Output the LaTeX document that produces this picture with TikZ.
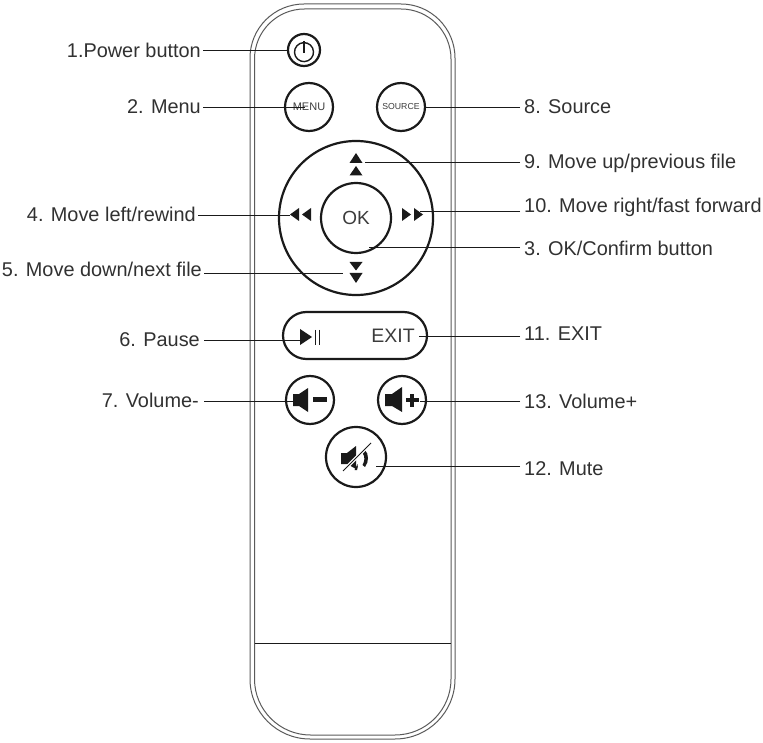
\documentclass[tikz,border=0pt]{standalone}
\usepackage{fontspec}
\setmainfont{Liberation Sans}
\usepackage{xcolor}
\usetikzlibrary{positioning,calc}
\definecolor{ink}    {HTML}{1A1A1A}
\definecolor{inkgray}{HTML}{5A5A5A}
\tikzset{
  btn/.style={circle,draw=ink,line width=2.2pt,inner sep=0pt,text=ink!85},
  leader/.style={ink,line width=0.9pt},
  lblL/.style={anchor=east,inner sep=2pt,font=\fontsize{19.9}{22}\selectfont,text=ink!90},
  lblR/.style={anchor=west,inner sep=4pt,font=\fontsize{19.9}{22}\selectfont,text=ink!90},
}
\begin{document}
\begin{tikzpicture}[x=1pt,y=1pt]
  \useasboundingbox (0,0) rectangle (763,-743);
  % remote body
  \draw[inkgray,line width=1pt] (250,-400) [rounded corners=54pt] -- (250,-4) -- (455,-4) -- (455,-400)
    [rounded corners=60pt] -- (455,-739) -- (250,-739) -- cycle;
  \draw[inkgray,line width=1pt] (254.5,-400) [rounded corners=50pt] -- (254.5,-9) -- (451,-9) -- (451,-400)
    [rounded corners=56pt] -- (451,-735) -- (254.5,-735) -- cycle;
  \draw[ink,line width=0.9pt] (254.5,-643) -- (451,-643);
  % buttons
  \node[btn,minimum size=32] (powerBtn) at (304,-50) {};
  \node[btn,minimum size=48,font=\fontsize{11}{12}\selectfont] (menuBtn) at (309,-107) {MENU};
  \node[btn,minimum size=48,font=\fontsize{8.7}{10}\selectfont] (sourceBtn) at (401,-107) {SOURCE};
  \node[btn,minimum size=154] (padBtn) at (356,-218) {};
  \node[btn,minimum size=70,font=\fontsize{19}{22}\selectfont] (okBtn) at (356,-218) {OK};
  \node[draw=ink,line width=2.2pt,rounded corners=23.5pt,minimum width=144,minimum height=47,inner sep=0pt] (pillBtn) at (355,-335.5) {};
  \node[font=\fontsize{19.5}{22}\selectfont,text=ink!85,inner sep=0pt] (exitTxt) at (393,-336) {EXIT};
  \node[btn,minimum size=48] (volDownBtn) at (310,-400) {};
  \node[btn,minimum size=48] (volUpBtn) at (402,-400) {};
  \node[btn,minimum size=60] (muteBtn) at (356,-457) {};
  % power glyph
  \draw[ink,line width=1.4pt] (304,-41) -- (304,-53);
  \draw[ink,line width=1.4pt] (300,-43.5) arc[start angle=115,end angle=-295,radius=9.5];
  % pad arrows
  \foreach \y/\h in {-153/10,-166/9.5} {
    \fill[ink] (349.5,\y-\h) -- (362.5,\y-\h) -- (356,\y) -- cycle;
  }
  \foreach \y/\h in {-262/8.5,-273/10} {
    \fill[ink] (349.5,\y) -- (362.5,\y) -- (356,\y-\h) -- cycle;
  }
  \foreach \x in {290,302} {
    \fill[ink] (\x,-214.5) -- (\x+9,-208) -- (\x+9,-221) -- cycle;
  }
  \foreach \x in {402,414} {
    \fill[ink] (\x,-208) -- (\x,-221) -- (\x+9,-214.5) -- cycle;
  }
  % play and pause
  \fill[ink] (300,-329) -- (300,-345) -- (312,-337) -- cycle;
  \draw[ink,line width=0.8pt] (315.5,-330) -- (315.5,-345) (319,-330) -- (319,-345);
  % volume glyphs
  \fill[ink] (293,-394) -- (299,-394) -- (308,-388) -- (308,-412) -- (299,-406) -- (293,-406) -- cycle;
  \fill[ink] (313,-397) rectangle (327,-402);
  \fill[ink] (385,-394) -- (392,-394) -- (402,-387) -- (402,-412) -- (392,-406) -- (385,-406) -- cycle;
  \fill[ink] (405.5,-398) rectangle (418.5,-402);
  \fill[ink] (410,-393.5) rectangle (414,-406.5);
  % mute glyph
  \fill[ink] (341,-453) -- (347,-453) -- (356,-446) -- (356,-469) -- (347,-464) -- (341,-464) -- cycle;
  \fill[ink] (365,-450) .. controls (369,-454) and (369,-462) .. (365,-467) -- (362.5,-465) .. controls (365,-461) and (365,-456) .. (362.5,-453) -- cycle;
  \fill[ink] (357.5,-464) .. controls (358,-466) and (358,-468) .. (357,-470) -- (354.5,-470) -- cycle;
  \draw[white,line width=3.4pt] (343,-471) -- (371,-443);
  \draw[ink,line width=0.9pt] (343,-471) -- (371,-443);
  % leader ends
  \coordinate (powerEnd) at (288,-50);
  \coordinate (menuEnd) at (305,-107);
  \coordinate (sourceEnd) at (424,-107);
  \coordinate (upEnd) at (365,-162);
  \coordinate (rightEnd) at (420,-211);
  \coordinate (okEnd) at (369,-247);
  \coordinate (leftEnd) at (290,-215);
  \coordinate (downEnd) at (343,-273);
  \coordinate (pauseEnd) at (305,-340);
  \coordinate (exitEnd) at (419,-336);
  \coordinate (volDownEnd) at (295,-401);
  \coordinate (volUpEnd) at (420,-401);
  \coordinate (muteEnd) at (376,-466);
  % labels
  \node[lblL] (powerLbl) at (203,-50) {1.Power button};
  \node[lblL] (menuLbl) at (203,-107) {2. Menu};
  \node[lblL] (leftLbl) at (198,-214) {4. Move left/rewind};
  \node[lblL] (downLbl) at (204,-269) {5. Move down/next file};
  \node[lblL,inner xsep=4pt] (pauseLbl) at (204,-340) {6. Pause};
  \node[lblL,inner xsep=5pt] (volDownLbl) at (204,-400) {7. Volume-};
  \node[lblR] (sourceLbl) at (520,-107) {8. Source};
  \node[lblR] (upLbl) at (520,-163) {9. Move up/previous file};
  \node[lblR] (rightLbl) at (520,-207) {10. Move right/fast forward};
  \node[lblR] (okLbl) at (520,-248) {3. OK/Confirm button};
  \node[lblR] (exitLbl) at (520,-334) {11. EXIT};
  \node[lblR] (volUpLbl) at (520,-401) {13. Volume+};
  \node[lblR] (muteLbl) at (520,-469) {12. Mute};
  % leaders
  \foreach \a/\b in {powerLbl/powerEnd,menuLbl/menuEnd,leftLbl/leftEnd,downLbl/downEnd,pauseLbl/pauseEnd,volDownLbl/volDownEnd} {
    \draw[leader] (\a.east |- \b) -- (\b);
  }
  \foreach \a/\b in {sourceLbl/sourceEnd,upLbl/upEnd,rightLbl/rightEnd,okLbl/okEnd,exitLbl/exitEnd,volUpLbl/volUpEnd,muteLbl/muteEnd} {
    \draw[leader] (\a.west |- \b) -- (\b);
  }
\end{tikzpicture}
\end{document}
